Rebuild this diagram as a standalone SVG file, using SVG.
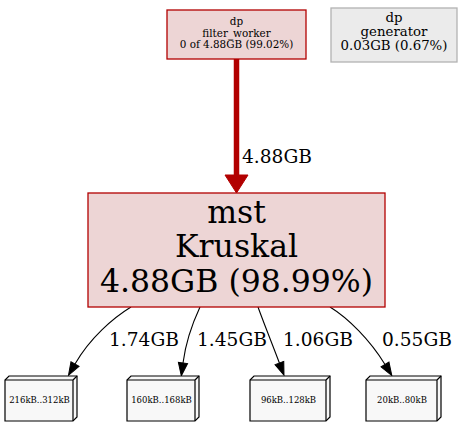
<svg xmlns="http://www.w3.org/2000/svg" width="462" height="429" viewBox="0 0 462 429">
<style>
text{font-family:"DejaVu Serif","Liberation Serif",serif;fill:#000;text-anchor:middle}
.hot{fill:#edd5d5;stroke:#b20000;stroke-width:1.3}
.cold{fill:#ebebeb;stroke:#b2b2b2;stroke-width:1.3}
.leaf{fill:#f8f8f8;stroke:#000;stroke-width:1.2}
.leafl{fill:none;stroke:#000;stroke-width:1.2}
.lt{font-size:8.5px}
.e{fill:none;stroke:#000;stroke-width:1.1}
.lbl{font-size:18.6px;text-anchor:start}
</style>
<defs>
<marker id="ah" markerUnits="userSpaceOnUse" markerWidth="14" markerHeight="10" refX="0" refY="4.65" orient="auto" overflow="visible">
<path d="M0,0 L13,4.65 L0,9.3 z" fill="#000" stroke="#000" stroke-width="1"/>
</marker>
<marker id="ahb" markerUnits="userSpaceOnUse" markerWidth="19" markerHeight="24" refX="0" refY="11.5" orient="auto" overflow="visible">
<path d="M0,0 L18,11.5 L0,23 z" fill="#b20000" stroke="#b20000" stroke-width="1"/>
</marker>
</defs>
<g id="connectors">
<path d="M236.5,59 L236.5,175" fill="none" stroke="#b20000" stroke-width="5.5" marker-end="url(#ahb)"/>
<text class="lbl" x="242" y="163">4.88GB</text>
<path class="e" d="M131,307 C113,318 90,338 75,364" marker-end="url(#ah)"/>
<text class="lbl" x="109" y="346">1.74GB</text>
<path class="e" d="M200,307 C193,322 186,340 183,363" marker-end="url(#ah)"/>
<text class="lbl" x="197" y="346">1.45GB</text>
<path class="e" d="M258,307 C263,321 273,346 279.4,363" marker-end="url(#ah)"/>
<text class="lbl" x="283" y="346">1.06GB</text>
<path class="e" d="M330,307 C348,318 370,340 385,364.5" marker-end="url(#ah)"/>
<text class="lbl" x="382" y="346">0.55GB</text>
</g>
<g id="filter_worker">
<rect class="hot" x="167" y="10" width="139" height="49"/>
<text x="236.5" y="25" font-size="10.4">dp</text>
<text x="236.5" y="36.5" font-size="10.4">filter_worker</text>
<text x="236.5" y="48" font-size="10.4">0 of 4.88GB (99.02%)</text>
</g>
<g id="generator">
<rect class="cold" x="331" y="8" width="126" height="54"/>
<text x="394" y="22" font-size="13.3">dp</text>
<text x="394" y="36" font-size="13.3">generator</text>
<text x="394" y="50" font-size="13.3">0.03GB (0.67%)</text>
</g>
<g id="mst">
<rect class="hot" x="88" y="193" width="297" height="114"/>
<text x="236.5" y="223" font-size="31.5">mst</text>
<text x="236.5" y="257" font-size="31.5">Kruskal</text>
<text x="236.5" y="292" font-size="31.5">4.88GB (98.99%)</text>
</g>
<g id="leaf1">
<path class="leaf" d="M77,376 L9,376 L5,380 L5,421 L73,421 L77,417 Z"/>
<path class="leafl" d="M73,380 L5,380 M73,380 L73,421 M73,380 L77,376"/>
<text class="lt" x="39.5" y="402.5">216kB..312kB</text>
</g>
<g id="leaf2">
<path class="leaf" d="M199,376 L131,376 L127,380 L127,421 L195,421 L199,417 Z"/>
<path class="leafl" d="M195,380 L127,380 M195,380 L195,421 M195,380 L199,376"/>
<text class="lt" x="161.5" y="402.5">160kB..168kB</text>
</g>
<g id="leaf3">
<path class="leaf" d="M330,376 L254,376 L250,380 L250,421 L326,421 L330,417 Z"/>
<path class="leafl" d="M326,380 L250,380 M326,380 L326,421 M326,380 L330,376"/>
<text class="lt" x="288.5" y="402.5">96kB..128kB</text>
</g>
<g id="leaf4">
<path class="leaf" d="M441,376 L370,376 L366,380 L366,421 L437,421 L441,417 Z"/>
<path class="leafl" d="M437,380 L366,380 M437,380 L437,421 M437,380 L441,376"/>
<text class="lt" x="402" y="402.5">20kB..80kB</text>
</g>
</svg>
